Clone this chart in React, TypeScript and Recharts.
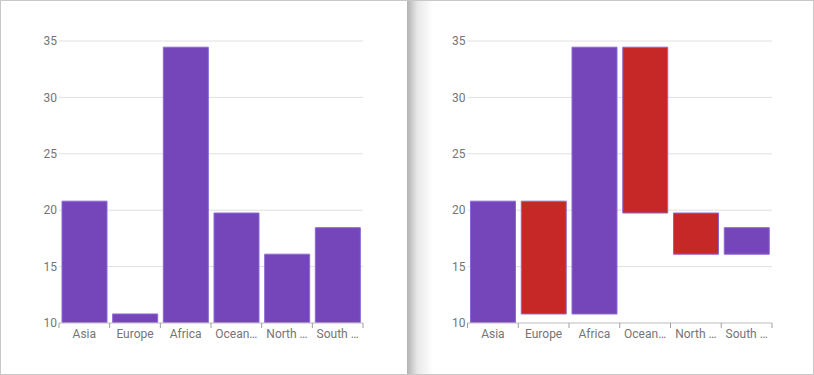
import React from "react";
import { BarChart, Bar, XAxis, YAxis, CartesianGrid, Cell } from "recharts";

const categories = ["Asia", "Europe", "Africa", "Oceania", "North America", "South America"];
const tickLabels = ["Asia", "Europe", "Africa", "Ocean…", "North …", "South …"];
const values = [20.8, 10.8, 34.45, 19.75, 16.1, 18.45];
const opens = [10, 20.8, 10.8, 34.45, 19.75, 16.1];
const yTicks = [10, 15, 20, 25, 30, 35];

const PURPLE = "#7446b9";
const PURPLE_STROKE = "#8c68d4";
const RED = "#c62828";
const FONT = "Roboto, 'Noto Sans', sans-serif";
const LABEL_COLOR = "#757575";

const barData = categories.map((c, i) => ({ name: c, value: values[i] }));
const waterData = categories.map((c, i) => ({
  name: c,
  range: [Math.min(opens[i], values[i]), Math.max(opens[i], values[i])],
  up: values[i] >= opens[i],
}));

const tickStyle = { fill: LABEL_COLOR, fontSize: 12, fontFamily: FONT };

function CategoryTick(props: any) {
  const { x, y, payload, index, visibleTicksCount } = props;
  const half = payload && payload.offset ? payload.offset : 0;
  const last = index === (visibleTicksCount ?? categories.length) - 1;
  return (
    <g>
      <line x1={x - half} x2={x - half} y1={y} y2={y + 5} stroke="#9e9e9e" strokeWidth={1} />
      {last ? <line x1={x + half} x2={x + half} y1={y} y2={y + 5} stroke="#9e9e9e" strokeWidth={1} /> : null}
      <text
        x={x}
        y={y + 6}
        dy="0.71em"
        textAnchor="middle"
        fill={LABEL_COLOR}
        fontSize={12}
        fontFamily={FONT}
      >
        {tickLabels[payload.index ?? index]}
      </text>
    </g>
  );
}

function renderAxes(yWidth: number) {
  return [
    <XAxis
      key="cx"
      dataKey="name"
      height={30}
      axisLine={{ stroke: "#cccccc" }}
      tickLine={false}
      tickSize={0}
      tickMargin={0}
      interval={0}
      tick={<CategoryTick />}
    />,
    <YAxis
      key="y"
      width={yWidth}
      domain={[10, 35]}
      ticks={yTicks}
      allowDataOverflow
      axisLine={false}
      tickLine={false}
      tickSize={0}
      tickMargin={2}
      tick={tickStyle}
    />,
  ];
}

export default function App() {
  return (
    <div
      style={{
        position: "absolute",
        left: 0,
        top: 0,
        width: 814,
        height: 375,
        boxSizing: "border-box",
        border: "1px solid #c8c8c8",
        background: "#fff",
        overflow: "hidden",
      }}
    >
      <div
        style={{
          position: "absolute",
          left: 406,
          top: 0,
          width: 26,
          height: 375,
          background: "linear-gradient(to right, rgba(0,0,0,0.3), rgba(0,0,0,0.09) 40%, rgba(0,0,0,0))",
        }}
      />
      <div style={{ position: "absolute", left: -1, top: -1 }}>
        <BarChart
          width={407}
          height={375}
          data={barData}
          margin={{ top: 41, right: 44, bottom: 22, left: 0 }}
          barSize={45}
        >
          <CartesianGrid vertical={false} stroke="#e0e0e0" />
          {renderAxes(59)}
          <Bar dataKey="value" fill={PURPLE} stroke={PURPLE_STROKE} strokeWidth={1} isAnimationActive={false} />
        </BarChart>
      </div>
      <div style={{ position: "absolute", left: 406, top: -1 }}>
        <BarChart
          width={408}
          height={375}
          data={waterData}
          margin={{ top: 41, right: 43, bottom: 22, left: 0 }}
          barSize={45}
        >
          <CartesianGrid vertical={false} stroke="#e0e0e0" />
          {renderAxes(60.5)}
          <Bar dataKey="range" stroke={PURPLE_STROKE} strokeWidth={1} isAnimationActive={false}>
            {waterData.map((d, i) => (
              <Cell key={i} fill={d.up ? PURPLE : RED} />
            ))}
          </Bar>
        </BarChart>
      </div>
    </div>
  );
}
